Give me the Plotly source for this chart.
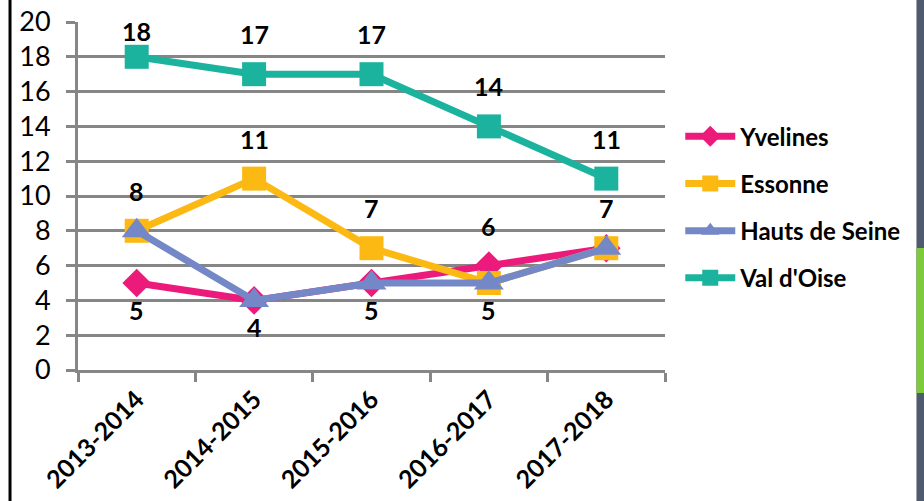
import plotly.graph_objects as go

seasons = ["2013-2014", "2014-2015", "2015-2016", "2016-2017", "2017-2018"]
yvelines = [5, 4, 5, 6, 7]
essonne = [8, 11, 7, 5, 7]
hauts_de_seine = [8, 4, 5, 5, 7]
val_doise = [18, 17, 17, 14, 11]
y_ticks = [0, 2, 4, 6, 8, 10, 12, 14, 16, 18, 20]

series = [
    ("Yvelines", yvelines, "#EC1A7B", "diamond", 22),
    ("Essonne", essonne, "#FDB913", "square", 24),
    ("Hauts de Seine", hauts_de_seine, "#7488C8", "triangle-up", 26),
    ("Val d'Oise", val_doise, "#1BB39E", "square", 24),
]

# label placement per point: +1 above, -1 below, 0 none
label_plan = {
    "Yvelines": [-1, -1, -1, 1, 0],
    "Essonne": [1, 1, 1, 0, 1],
    "Hauts de Seine": [0, 0, 0, -1, 0],
    "Val d'Oise": [1, 1, 1, 1, 1],
}

FONT = "Lato, Calibri, Arial, sans-serif"
fig = go.Figure()
for i, (name, vals, color, sym, msize) in enumerate(series):
    fig.add_trace(go.Scatter(
        x=seasons, y=vals, name=name, mode="lines+markers",
        line=dict(color=color, width=7),
        marker=dict(symbol=sym, size=msize, color=color),
        legendgroup=str(i),
    ))

annotations = []
for name, vals, color, sym, msize in series:
    plan = label_plan[name]
    for x, v, p in zip(seasons, vals, plan):
        if p == 0:
            continue
        shift = 40 if p > 0 else -27
        if p > 0 and v >= 18:
            shift = 26
        annotations.append(dict(
            x=x, y=v, xref="x", yref="y", text=f"<b>{v}</b>", showarrow=False,
            yshift=shift,
            font=dict(size=25, color="black", family=FONT),
        ))

fig.update_layout(
    width=924, height=501,
    margin=dict(l=78, r=259, t=22, b=131, autoexpand=False),
    paper_bgcolor="white", plot_bgcolor="white",
    font=dict(family=FONT, color="black"),
    showlegend=True,
    legend=dict(
        x=1.026, y=0.468, xanchor="left", yanchor="middle",
        font=dict(size=24, family=FONT, color="black", weight="bold"),
        traceorder="grouped", tracegroupgap=13,
        itemwidth=50, bgcolor="rgba(0,0,0,0)",
    ),
    annotations=annotations,
    shapes=[
        dict(type="line", xref="paper", yref="paper",
             x0=-0.1158, x1=-0.1158, y0=-0.38, y1=1.07,
             line=dict(color="black", width=3)),
        dict(type="rect", xref="paper", yref="paper",
             x0=1.4284, x1=1.46, y0=-0.38, y1=1.07,
             fillcolor="#4E5A6E", line=dict(width=0)),
        dict(type="rect", xref="paper", yref="paper",
             x0=1.4284, x1=1.46, y0=-0.0661, y1=0.3506,
             fillcolor="#7DCB3A", line=dict(width=0)),
    ],
)
fig.update_xaxes(
    type="category", tickson="boundaries", showgrid=False,
    showline=True, linecolor="#868686", linewidth=3,
    ticks="outside", ticklen=9, tickwidth=3, tickcolor="#868686",
    tickangle=-45, tickfont=dict(size=25, family=FONT, color="black", weight="bold"),
    ticklabelstandoff=2,
    range=[-0.5, 4.5],
)
fig.update_yaxes(
    range=[0, 20], tickvals=y_ticks, showgrid=True,
    gridcolor="#868686", gridwidth=2.5,
    showline=True, linecolor="#868686", linewidth=3,
    ticks="outside", ticklen=9, tickwidth=3, tickcolor="#868686",
    tickfont=dict(size=27, family=FONT, color="black"),
    ticklabelstandoff=10,
    zeroline=False,
)
fig.write_html("out.html", config={"displayModeBar": False},
               post_script="document.body.style.margin='0';document.body.style.overflow='hidden';")
